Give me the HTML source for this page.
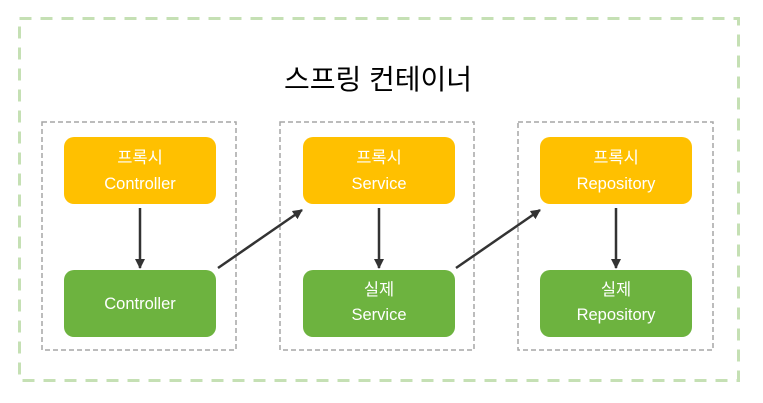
<!DOCTYPE html>
<html><head><meta charset="utf-8"><style>html,body{margin:0;padding:0;background:#fff}svg{display:block}</style></head>
<body>
<svg width="763" height="403" viewBox="0 0 763 403" xmlns="http://www.w3.org/2000/svg" font-family="'Liberation Sans','Noto Sans CJK KR',sans-serif">
<defs><marker id="a" markerWidth="10" markerHeight="10" refX="9" refY="5" orient="auto" markerUnits="userSpaceOnUse"><path d="M0,0 L10,5 L0,10 Z" fill="#333"/></marker></defs>
<rect x="19.5" y="18.5" width="719" height="362" fill="none" stroke="#c5e0b4" stroke-width="3" stroke-dasharray="12,9"/>
<text x="378" y="89" font-size="28" text-anchor="middle" fill="#000">스프링 컨테이너</text>
<g fill="none" stroke="#a6a6a6" stroke-width="1.5" stroke-dasharray="5,3">
<rect x="42" y="122" width="194" height="228"/><rect x="280" y="122" width="194" height="228"/><rect x="518" y="122" width="195" height="228"/>
</g>
<g fill="#ffc000"><rect x="64" y="137" width="152" height="67" rx="10"/><rect x="303" y="137" width="152" height="67" rx="10"/><rect x="540" y="137" width="152" height="67" rx="10"/></g>
<g fill="#6db33f"><rect x="64" y="270" width="152" height="67" rx="10"/><rect x="303" y="270" width="152" height="67" rx="10"/><rect x="540" y="270" width="152" height="67" rx="10"/></g>
<g fill="#fff" font-size="16.5" text-anchor="middle">
<text x="140" y="163">프록시</text><text x="140" y="189">Controller</text>
<text x="379" y="163">프록시</text><text x="379" y="189">Service</text>
<text x="616" y="163">프록시</text><text x="616" y="189">Repository</text>
<text x="140" y="309">Controller</text>
<text x="379" y="295">실제</text><text x="379" y="320">Service</text>
<text x="616" y="295">실제</text><text x="616" y="320">Repository</text>
</g>
<g stroke="#333" stroke-width="2.5" marker-end="url(#a)">
<line x1="140" y1="208" x2="140" y2="268"/><line x1="379" y1="208" x2="379" y2="268"/><line x1="616" y1="208" x2="616" y2="268"/>
<line x1="218" y1="268" x2="302" y2="210"/><line x1="456" y1="268" x2="540" y2="210"/>
</g>
</svg>
</body></html>
